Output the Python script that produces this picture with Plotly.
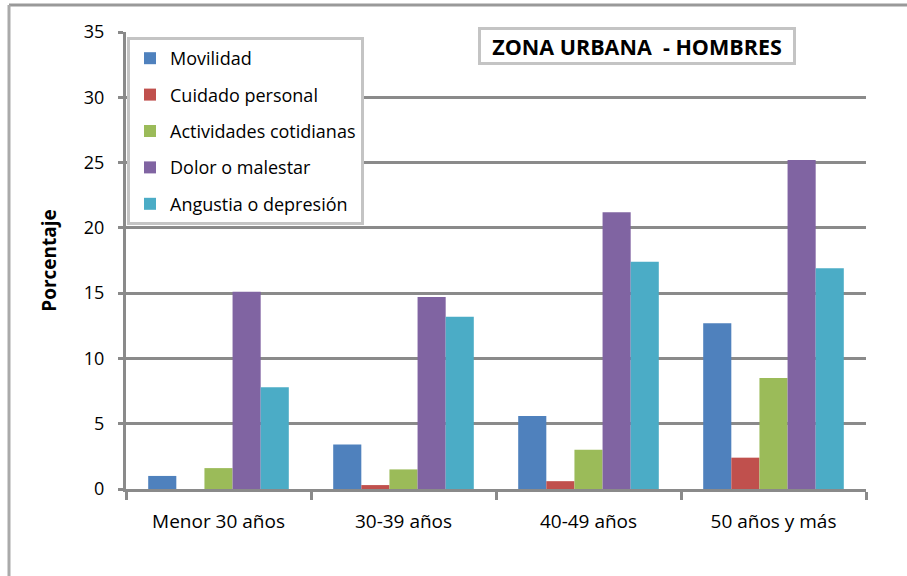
import plotly.graph_objects as go

categories = ["Menor 30 años", "30-39 años", "40-49 años", "50 años y más"]
series_names = ["Movilidad", "Cuidado personal", "Actividades cotidianas",
                "Dolor o malestar", "Angustia o depresión"]
movilidad = [1.0, 3.4, 5.6, 12.7]
cuidado = [0.0, 0.3, 0.6, 2.4]
actividades = [1.6, 1.5, 3.0, 8.5]
dolor = [15.1, 14.7, 21.2, 25.2]
angustia = [7.8, 13.2, 17.4, 16.9]
y_ticks = [0, 5, 10, 15, 20, 25, 30, 35]

colors = ["#4F81BD", "#C0504D", "#9BBB59", "#8064A2", "#4BACC6"]
values = [movilidad, cuidado, actividades, dolor, angustia]

FONT = "Open Sans"
GRID = "#8a8a8a"

fig = go.Figure()
for i, (name, vals) in enumerate(zip(series_names, values)):
    fig.add_trace(go.Bar(x=categories, y=vals, name=name,
                         marker=dict(color=colors[i], line=dict(width=0)),
                         legendgroup=f"g{i}"))

L, R, T, B = 126, 41, 32, 87
W, H = 907, 576
pw = W - L - R
ph = H - T - B

def px_x(p):
    return (p - L) / pw

def px_y(p):
    return (H - B - p) / ph

fig.update_layout(
    width=W, height=H,
    margin=dict(l=L, r=R, t=T, b=B, pad=0, autoexpand=False),
    paper_bgcolor="white", plot_bgcolor="white",
    barmode="group", bargap=0.24, bargroupgap=0,
    font=dict(family=FONT, size=18, color="#000000"),
    showlegend=True,
    legend=dict(x=px_x(127), y=px_y(37), xanchor="left", yanchor="top",
                bgcolor="white", bordercolor="#c4c4c4", borderwidth=3,
                font=dict(family=FONT, size=18, color="#000"),
                tracegroupgap=10, itemwidth=30),
    xaxis=dict(showgrid=False, showline=True, linecolor=GRID, linewidth=3,
               ticks="outside", tickson="boundaries", ticklen=8, tickwidth=3,
               tickcolor=GRID, tickfont=dict(family=FONT, size=19),
               ticklabelstandoff=13,
               automargin=False, fixedrange=True),
    yaxis=dict(range=[0, 35], tickvals=y_ticks, showgrid=True,
               gridcolor=GRID, gridwidth=3, showline=True, linecolor=GRID,
               linewidth=3, ticks="outside", ticklen=5, tickwidth=3,
               tickcolor=GRID, tickfont=dict(family=FONT, size=18),
               ticklabelstandoff=10,
               zeroline=False, automargin=False, fixedrange=True,
               title=dict(text="<b>Porcentaje</b>", font=dict(family=FONT, size=19),
                          standoff=23)),
    annotations=[dict(text="<b>ZONA URBANA  - HOMBRES</b>", x=px_x(636.5), y=px_y(46),
                      xref="paper", yref="paper", xanchor="center", yanchor="middle",
                      showarrow=False,
                      font=dict(family=FONT, size=21.5, color="#000"),
                      bgcolor="white", bordercolor="#c4c4c4", borderwidth=3,
                      borderpad=2, width=308, height=28)],
    shapes=[
        dict(type="line", xref="paper", yref="paper", x0=px_x(9), x1=px_x(907),
             y0=px_y(5), y1=px_y(5), line=dict(color="#999999", width=3)),
        dict(type="line", xref="paper", yref="paper", x0=px_x(9), x1=px_x(9),
             y0=px_y(5), y1=px_y(576), line=dict(color="#aaaaaa", width=3)),
    ],
)

fig.write_html("out.html", config={"displayModeBar": False},
               post_script="document.body.style.margin='0';document.body.style.padding='0';")
